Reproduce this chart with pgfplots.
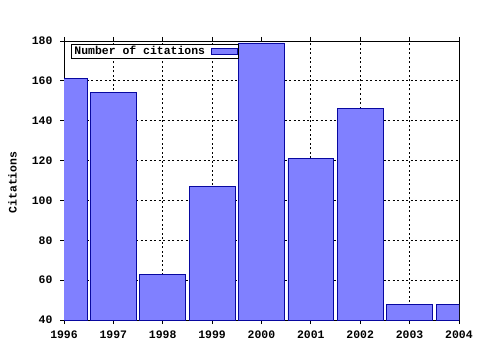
\documentclass[border=0pt]{standalone}
\usepackage{fontspec}
\setmainfont{Liberation Mono}
\setmonofont{Liberation Mono}
\usepackage{pgfplots}
\pgfplotsset{compat=1.18}
\definecolor{barfill}{RGB}{128,128,255}
\definecolor{barline}{RGB}{8,8,160}
\begin{document}
\begin{tikzpicture}[x=1bp,y=1bp]
\path[use as bounding box] (0,0) rectangle (480,350);
\begin{axis}[
  at={(64bp,30bp)}, anchor=south west,
  scale only axis, width=395bp, height=279bp,
  xmin=1996, xmax=2004, ymin=40, ymax=180,
  xtick={1996,...,2004}, ytick={40,60,...,180},
  minor x tick num=3,
  ytick pos=left,
  tick align=outside,
  major tick length=4bp, minor tick length=2.5bp,
  every tick/.style={black, line width=0.8bp},
  grid=major,
  major grid style={black, line width=0.8bp, dash pattern=on 2bp off 2.5bp},
  axis line style={line width=0.9bp},
  /pgf/number format/1000 sep={},
  /pgf/number format/assume math mode=true,
  ticklabel style={font=\fontsize{11.5}{12}\selectfont\bfseries},
  xticklabel style={yshift=-3bp},
  yticklabel style={xshift=-4bp},
  ylabel={Citations},
  every axis y label/.style={font=\fontsize{11.5}{12}\selectfont\bfseries,
     at={(axis description cs:0,0.5)}, xshift=-51.5bp, yshift=-2bp, rotate=90, anchor=center},
  ybar, bar width=0.93, bar shift=0pt,
  legend style={at={(0,1)}, anchor=north west, xshift=7bp, yshift=-3bp,
    font=\fontsize{11.5}{12}\selectfont\bfseries, draw=black, line width=0.9bp,
    inner xsep=1bp, inner ysep=0bp, row sep=0bp},
  legend cell align=left,
  legend plot pos=right,
  legend image code/.code={\path[draw=none,fill=none] (0bp,0bp) -- (2bp,0bp);\draw[#1, line width=0.8bp] (4bp,-3bp) rectangle (30bp,3bp);},
]
\addplot[fill=barfill, draw=barline, line width=0.8bp] coordinates {
  (1996,161) (1997,154) (1998,63) (1999,107) (2000,179)
  (2001,121) (2002,146) (2003,48) (2004,48)
};
\addlegendentry{Number of citations}
\end{axis}
\end{tikzpicture}
\end{document}
